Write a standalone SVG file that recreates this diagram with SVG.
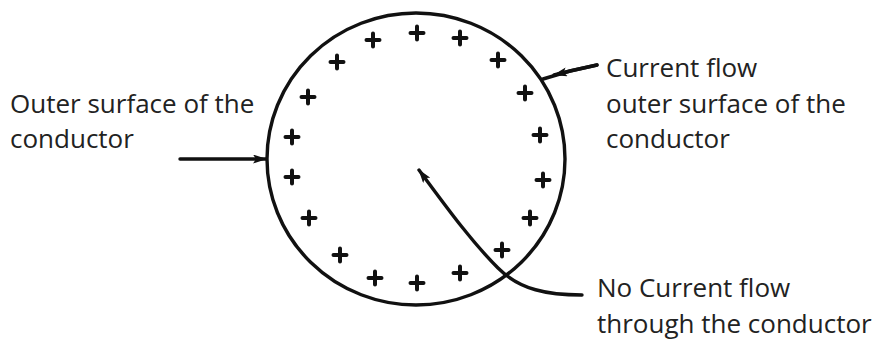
<svg xmlns="http://www.w3.org/2000/svg" width="875" height="343" viewBox="0 0 875 343">
<style>
.t{font-family:"Open Sans","Liberation Sans",sans-serif;font-size:26px;fill:#222}
.ln{fill:none;stroke:#111;stroke-width:3.4;stroke-linecap:round}
.p{stroke:#111;stroke-width:4;stroke-linecap:round}
</style>
<defs>
<marker id="ah" viewBox="0 0 14 9" refX="13" refY="4.5" markerWidth="14" markerHeight="9" markerUnits="userSpaceOnUse" orient="auto">
<path d="M0,0 L14,4.5 L0,9 L3,4.5 Z" fill="#111"/>
</marker>
<symbol id="plus" overflow="visible"><path class="p" d="M-6.5,0 H6.5 M0,-6.5 V6.5"/></symbol>
</defs>
<rect width="875" height="343" fill="#fff"/>
<g id="conductor">
<ellipse cx="416" cy="159" rx="149" ry="146" class="ln"/>
<g id="charges">
<use href="#plus" x="417" y="33"/>
<use href="#plus" x="460" y="38"/>
<use href="#plus" x="498" y="60"/>
<use href="#plus" x="525" y="93"/>
<use href="#plus" x="540" y="135"/>
<use href="#plus" x="543" y="180"/>
<use href="#plus" x="530" y="218"/>
<use href="#plus" x="502" y="250"/>
<use href="#plus" x="460" y="273"/>
<use href="#plus" x="417" y="283"/>
<use href="#plus" x="375" y="278"/>
<use href="#plus" x="340" y="255"/>
<use href="#plus" x="309" y="218"/>
<use href="#plus" x="292" y="177"/>
<use href="#plus" x="292" y="137"/>
<use href="#plus" x="308" y="97"/>
<use href="#plus" x="337" y="62"/>
<use href="#plus" x="373" y="40"/>
</g>
</g>
<g id="label-left">
<text class="t" x="10" y="113">Outer surface of the</text>
<text class="t" x="10" y="148">conductor</text>
</g>
<g id="label-right">
<text class="t" x="606" y="77">Current flow</text>
<text class="t" x="606" y="113">outer surface of the</text>
<text class="t" x="606" y="148">conductor</text>
</g>
<g id="label-bottom">
<text class="t" x="597" y="297">No Current flow</text>
<text class="t" x="597" y="333">through the conductor</text>
</g>
<g id="connectors">
<path class="ln" d="M180,159 L266,159" marker-end="url(#ah)"/>
<path class="ln" d="M597,65 L570,71 L543,79"/>
<path class="ln" d="M597,65 L570,71 L554,75" marker-end="url(#ah)"/>
<path class="ln" d="M582,295 C548,295 520,290 498,268 C470,240 445,205 419,170" marker-end="url(#ah)"/>
</g>
</svg>
